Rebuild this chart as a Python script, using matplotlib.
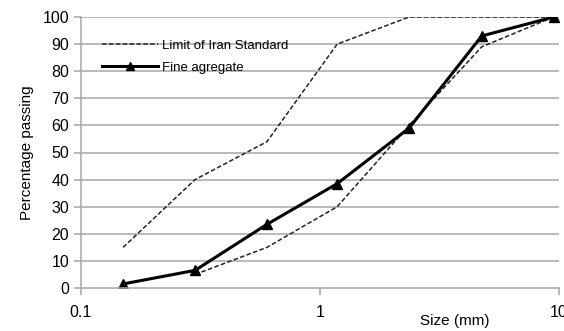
import matplotlib.pyplot as plt
from matplotlib.lines import Line2D

plt.rcParams['font.family'] = ['Liberation Sans', 'DejaVu Sans']

sizes = [0.15, 0.3, 0.6, 1.18, 2.36, 4.75, 9.5]
upper_limit = [15, 40, 54, 90, 100, 100, 100]
lower_sizes = [0.3, 0.6, 1.18, 2.36, 4.75, 9.5]
lower_limit = [5, 15, 30, 60, 89, 100]
fine_agg = [1.5, 6.5, 23.5, 38.5, 59, 93, 100]

fig = plt.figure(figsize=(5.64, 3.31), dpi=100)
ax = fig.add_axes([81/564, 43/331, 478/564, 271/331])

grid_c = '#a6a6a6'
for y in range(10, 101, 10):
    ax.axhline(y, color=grid_c, lw=1.1, zorder=0)

ax.plot(sizes, upper_limit, color='#222222', ls=(0, (3, 1.5)), lw=1.1)
ax.plot(lower_sizes, lower_limit, color='#222222', ls=(0, (3, 1.5)), lw=1.1)
ax.plot(sizes, fine_agg, color='black', lw=2.2, marker='^', ms=7)

ax.set_xscale('log')
ax.set_xlim(0.1, 10)
ax.set_ylim(0, 100)
ax.set_yticks(range(0, 101, 10))
ax.set_xticks([0.1, 1, 10])
ax.set_xticklabels(['0.1', '1', '10'])
ax.minorticks_off()

for s in ['top', 'right']:
    ax.spines[s].set_visible(False)
for s in ['left', 'bottom']:
    ax.spines[s].set_color(grid_c)
    ax.spines[s].set_linewidth(1.1)
ax.tick_params(axis='both', colors=grid_c, labelcolor='black', labelsize=11.5, length=5, width=1.1)
ax.tick_params(axis='x', pad=7)

ax.set_ylabel('Percentage passing', fontsize=11, labelpad=6)
fig.text(455/564, 3/331, 'Size (mm)', ha='center', va='bottom', fontsize=11)

handles = [Line2D([], [], color='#222222', ls=(0, (3, 1.5)), lw=1.1),
           Line2D([], [], color='black', lw=2.2, marker='^', ms=6)]
ax.legend(handles, ['Limit of Iran Standard', 'Fine agregate'], loc='upper left',
          bbox_to_anchor=(0.02, 0.96), frameon=False, fontsize=9.5,
          handlelength=4.2, handletextpad=0.3, labelspacing=0.75)

fig.savefig('out.png', dpi=100)
